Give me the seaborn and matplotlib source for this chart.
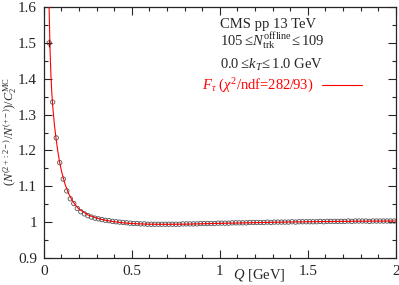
import numpy as np
import pandas as pd
import matplotlib
matplotlib.use("Agg")
import matplotlib.pyplot as plt
from matplotlib.ticker import MultipleLocator
import seaborn as sns

# bin centres of Q [GeV] (0.02 GeV wide bins)
q_bins = np.round(np.arange(0.03, 2.0, 0.02), 3)

ratio = [
    1.500, 1.335, 1.235, 1.166, 1.120, 1.087, 1.065, 1.052, 1.038, 1.029,
    1.023, 1.018, 1.014, 1.011, 1.009, 1.007, 1.005, 1.004, 1.002, 1.001,
    1.000, 0.999, 0.998, 0.997, 0.996, 0.996, 0.995, 0.995, 0.994, 0.994,
    0.994, 0.994, 0.994, 0.994, 0.994, 0.994, 0.994, 0.994, 0.995, 0.995,
    0.995, 0.995, 0.995, 0.996, 0.996, 0.996, 0.996, 0.996, 0.997,
    0.997, 0.997, 0.997, 0.998, 0.998, 0.998, 0.998, 0.998, 0.999, 0.999,
    0.999, 0.999, 0.999, 1.000, 0.999, 1.000, 1.000, 1.000, 1.000, 1.000,
    1.001, 1.000, 1.001, 1.001, 1.001, 1.001, 1.001, 1.001, 1.002, 1.001,
    1.002, 1.002, 1.002, 1.002, 1.002, 1.002, 1.003, 1.002, 1.003, 1.003,
    1.003, 1.003, 1.002, 1.003, 1.003, 1.003, 1.003, 1.003, 1.003, 1.003,
]
first_err = 0.01

# fitted F_tau curve
fit_q = [0.028, 0.03, 0.035, 0.04, 0.045, 0.05, 0.06, 0.07, 0.08, 0.09,
         0.10, 0.12, 0.14, 0.16, 0.18, 0.20, 0.25, 0.30, 0.35, 0.40,
         0.45, 0.50, 0.60, 0.70, 0.80, 1.0, 1.2, 1.4, 1.6, 1.8, 2.0]
fit_val = [1.64, 1.59, 1.48, 1.41, 1.36, 1.325, 1.27, 1.23, 1.195, 1.166,
           1.142, 1.106, 1.080, 1.061, 1.047, 1.036, 1.020, 1.011, 1.005, 1.001,
           0.998, 0.996, 0.994, 0.9938, 0.9942, 0.9965, 0.9985, 1.0003, 1.0015, 1.0025, 1.003]

info_lines = ["CMS pp 13 TeV",
              r"105$\leq\!N_{\rm trk}^{\rm offline}\!\leq$109",
              r"0.0$\leq\!k_{T}\!\leq$1.0 GeV"]
fit_label = r"$F_{\tau}$ ($\chi^{2}$/ndf=282/93)"

FS = 10.5

sns.set_style("ticks")
plt.rcParams['font.family'] = ['Liberation Serif', 'DejaVu Serif']
plt.rcParams['mathtext.fontset'] = 'custom'
plt.rcParams['mathtext.rm'] = 'Liberation Serif'
plt.rcParams['mathtext.it'] = 'Liberation Serif:italic'
plt.rcParams['mathtext.bf'] = 'Liberation Serif:bold'
plt.rcParams['font.size'] = FS

df = pd.DataFrame({'Q': q_bins, 'ratio': ratio})
fit_df = pd.DataFrame({'Q': fit_q, 'fit': fit_val})

fig = plt.figure(figsize=(3.99, 2.85), dpi=100)
ax = fig.add_axes([0.110, 0.095, 0.882, 0.880])

sns.scatterplot(data=df, x='Q', y='ratio', ax=ax, marker='o', s=10,
                facecolor='none', edgecolor='#555555', linewidth=0.6, zorder=2)
ax.errorbar(df['Q'].iloc[0], df['ratio'].iloc[0], xerr=0.01, yerr=first_err,
            fmt='none', ecolor='black', elinewidth=0.8, zorder=3)
sns.lineplot(data=fit_df, x='Q', y='fit', ax=ax, color='red', linewidth=0.8,
             zorder=4, label=fit_label)

ax.set_xlim(0, 2)
ax.set_ylim(0.9, 1.6)
ax.xaxis.set_minor_locator(MultipleLocator(0.1))
ax.yaxis.set_minor_locator(MultipleLocator(0.05))
ax.set_xticks([0, 0.5, 1, 1.5, 2])
ax.set_xticklabels(["0", "0.5", "1", "1.5", "2"])
ax.set_yticks([0.9, 1.0, 1.1, 1.2, 1.3, 1.4, 1.5, 1.6])
ax.set_yticklabels(["0.9", "1", "1.1", "1.2", "1.3", "1.4", "1.5", "1.6"])
ax.tick_params(which='both', direction='in', top=True, right=True,
               width=0.8, labelsize=11, pad=5)
ax.tick_params(which='major', length=6)
ax.tick_params(which='minor', length=3)
for sp in ax.spines.values():
    sp.set_linewidth(0.9)

ax.set_xlabel(r"$Q$ [GeV]", fontsize=FS)
ax.xaxis.set_label_coords(0.611, -0.035)
ax.set_ylabel(r"$(N^{(2+:2-)}/N^{(+-)})/C_{2}^{\rm MC}$", fontsize=8.8)
ax.yaxis.set_label_coords(-0.07, 0.502)

for txt, yy in zip(info_lines, [0.9175, 0.847, 0.753]):
    ax.text(0.5, yy, txt, transform=ax.transAxes, ha='left', va='baseline',
            fontsize=FS)

leg = ax.legend(loc='lower left', bbox_to_anchor=(0.448, 0.650), frameon=False,
                borderpad=0, borderaxespad=0, handlelength=2.75, handletextpad=0.6,
                markerfirst=False, fontsize=FS)
for t in leg.get_texts():
    t.set_color('red')

fig.savefig("out.png", dpi=100)
